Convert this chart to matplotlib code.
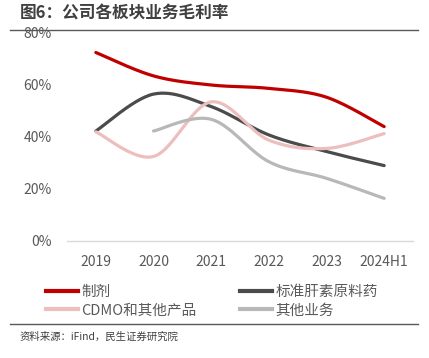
import numpy as np
import matplotlib
matplotlib.use('Agg')
import matplotlib.pyplot as plt
from matplotlib.lines import Line2D

plt.rcParams['font.family'] = ['Noto Sans CJK SC', 'DejaVu Sans']

# 数据（从图中读取，单位 %）
anos = ['2019', '2020', '2021', '2022', '2023', '2024H1']
zhiji = [72.5, 63.5, 60.0, 58.7, 55.3, 44.0]
biaozhun = [42.3, 56.5, 51.7, 40.8, 34.4, 29.0]
cdmo = [42.0, 32.5, 53.5, 38.8, 35.6, 41.3]
qita = [None, 42.3, 46.8, 30.5, 24.1, 16.4]

cores = {'zhiji': '#C00000', 'biaozhun': '#4B4B4B', 'cdmo': '#EDBEBE', 'qita': '#B8B8B8'}


def suavizar(xs, ys, n=30):
    # curva suave tipo Excel (Catmull-Rom em forma de Bezier)
    pts = np.column_stack([xs, ys]).astype(float)
    out = []
    for i in range(len(pts) - 1):
        p0 = pts[i - 1] if i > 0 else pts[i]
        p1 = pts[i]
        p2 = pts[i + 1]
        p3 = pts[i + 2] if i + 2 < len(pts) else pts[i + 1]
        c1 = p1 + (p2 - p0) / 6
        c2 = p2 - (p3 - p1) / 6
        t = np.linspace(0, 1, n)[:, None]
        seg = (1 - t) ** 3 * p1 + 3 * (1 - t) ** 2 * t * c1 + 3 * (1 - t) * t ** 2 * c2 + t ** 3 * p2
        out.append(seg if i == 0 else seg[1:])
    out = np.vstack(out)
    return out[:, 0], out[:, 1]


fig = plt.figure(figsize=(4.29, 3.58), dpi=100)
ax = fig.add_axes([67 / 429, 1 - 241 / 358, (413 - 67) / 429, (241 - 33) / 358])

series = [('制剂', zhiji, cores['zhiji']),
          ('标准肝素原料药', biaozhun, cores['biaozhun']),
          ('CDMO和其他产品', cdmo, cores['cdmo']),
          ('其他业务', qita, cores['qita'])]

handles = {}
for nome, vals, cor in series:
    xs = [i for i, v in enumerate(vals) if v is not None]
    ys = [v for v in vals if v is not None]
    sx, sy = suavizar(xs, ys)
    ax.plot(sx, sy, color=cor, lw=2.3, solid_capstyle='round', zorder=3)
    handles[nome] = Line2D([], [], color=cor, lw=3)

ax.set_xlim(-0.5, len(anos) - 0.5)
ax.set_ylim(0, 80)
ax.set_yticks([0, 20, 40, 60, 80])
ax.set_yticklabels([f'{v}%' for v in [0, 20, 40, 60, 80]])
ax.set_xticks(range(len(anos)))
ax.set_xticklabels(anos)
ax.tick_params(axis='both', length=0, labelsize=10, colors='#595959')
ax.tick_params(axis='y', pad=11)
ax.tick_params(axis='x', pad=10)
for lado in ['top', 'right', 'left']:
    ax.spines[lado].set_visible(False)
ax.spines['bottom'].set_color('#D9D9D9')
ax.spines['bottom'].set_linewidth(1)
ax.patch.set_alpha(0)

ordem = ['制剂', 'CDMO和其他产品', '标准肝素原料药', '其他业务']
fig.legend([handles[k] for k in ordem], ordem, ncol=2, loc='upper left',
           bbox_to_anchor=(33 / 429, 1 - 272 / 358), frameon=False,
           fontsize=10.5, handlelength=2.2, handletextpad=0.2, columnspacing=3.0,
           labelspacing=0.3, labelcolor='#595959')

# título e linhas
fig.text(20 / 429, 1 - 13 / 358, '图6：公司各板块业务毛利率', fontsize=12, fontweight='bold',
         color='#404040', va='center', ha='left')
fig.add_artist(Line2D([10 / 429, 418 / 429], [1 - 30 / 358, 1 - 30 / 358], color='#595959', lw=1))
fig.add_artist(Line2D([10 / 429, 418 / 429], [1 - 324 / 358, 1 - 324 / 358], color='#595959', lw=1))
fig.text(20 / 429, 1 - 337 / 358, '资料来源：iFind，民生证券研究院', fontsize=7.5,
         color='#404040', va='center', ha='left')

plt.savefig('out.png', dpi=100)
